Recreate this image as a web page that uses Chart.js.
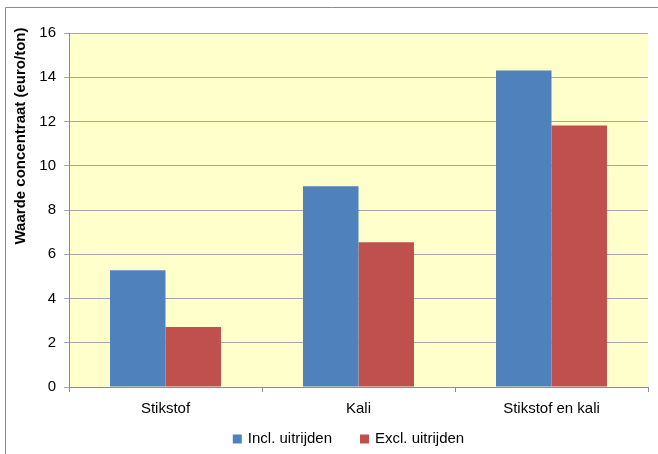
<!DOCTYPE html>
<html>
<head>
<meta charset="utf-8">
<script src="https://cdn.jsdelivr.net/npm/chart.js@4/dist/chart.umd.min.js"></script>
<style>
  html, body { margin: 0; padding: 0; background: #ffffff; }
  #wrap { width: 658px; height: 454px; position: relative; }
</style>
</head>
<body>
<div id="wrap"><canvas id="c" width="658" height="454"></canvas></div>
<script>
// Waarde concentraat per scenario
const categories = ['Stikstof', 'Kali', 'Stikstof en kali'];
const inclUitrijden = [5.28, 9.07, 14.3];
const exclUitrijden = [2.71, 6.54, 11.82];
const seriesNames = ['Incl. uitrijden', 'Excl. uitrijden'];
const yTicks = [0, 2, 4, 6, 8, 10, 12, 14, 16];
const yTitle = 'Waarde concentraat (euro/ton)';

const FONT = 'Liberation Sans, Arial, sans-serif';

// Light yellow plot background and the thin outer frame
const frame = {
  id: 'frame',
  beforeDraw(chart) {
    const { ctx, chartArea: a } = chart;
    ctx.save();
    ctx.fillStyle = '#FFFFCC';
    ctx.fillRect(a.left, a.top, a.right - a.left, a.bottom - a.top);
    ctx.strokeStyle = '#8C8C8C';
    ctx.lineWidth = 1;
    ctx.beginPath();
    ctx.moveTo(5.5, chart.height);
    ctx.lineTo(5.5, 7.5);
    ctx.lineTo(chart.width, 7.5);
    ctx.stroke();
    ctx.restore();
  }
};

// Vertical axis title, set towards the upper part of the axis
const axisTitle = {
  id: 'axisTitle',
  afterDraw(chart) {
    const { ctx } = chart;
    ctx.save();
    ctx.translate(20.5, 136);
    ctx.rotate(-Math.PI / 2);
    ctx.font = 'bold 15px ' + FONT;
    ctx.fillStyle = '#000000';
    ctx.textAlign = 'center';
    ctx.textBaseline = 'middle';
    ctx.fillText(yTitle, 0, 0);
    ctx.restore();
  }
};

// Bottom legend built from the datasets' labels and colours
const bottomLegend = {
  id: 'bottomLegend',
  afterDraw(chart) {
    const { ctx, chartArea: a } = chart;
    const box = 9, gap = 6, spacing = 28;
    ctx.save();
    ctx.font = '15px ' + FONT;
    ctx.textBaseline = 'middle';
    const items = chart.data.datasets.map(ds => ({
      text: ds.label, color: ds.backgroundColor, w: ctx.measureText(ds.label).width
    }));
    const total = items.reduce((s, it) => s + box + gap + it.w, 0) + spacing * (items.length - 1);
    let x = (a.left + a.right) / 2 - 10 - total / 2;
    const y = chart.height - 15;
    items.forEach(it => {
      ctx.fillStyle = it.color;
      ctx.fillRect(x, y - box / 2, box, box);
      ctx.fillStyle = '#000000';
      ctx.fillText(it.text, x + box + gap, y);
      x += box + gap + it.w + spacing;
    });
    ctx.restore();
  }
};

new Chart(document.getElementById('c'), {
  type: 'bar',
  data: {
    labels: categories,
    datasets: [
      { label: seriesNames[0], data: inclUitrijden, backgroundColor: '#4F81BD' },
      { label: seriesNames[1], data: exclUitrijden, backgroundColor: '#C0504D' }
    ]
  },
  options: {
    responsive: false,
    animation: false,
    devicePixelRatio: 1,
    layout: { padding: { left: 8, top: 33, right: 10, bottom: 28.5 } },
    datasets: { bar: { categoryPercentage: 0.575, barPercentage: 1.0 } },
    scales: {
      x: {
        grid: { display: true, drawOnChartArea: false, drawTicks: true, tickLength: 5, color: '#8C8C8C', offset: true },
        border: { color: '#8C8C8C' },
        ticks: { color: '#000000', font: { family: FONT, size: 15 }, padding: 7.5 },
        afterFit(scale) { scale.height = 38.5; }
      },
      y: {
        min: 0, max: 16,
        afterBuildTicks(scale) { scale.ticks = yTicks.map(v => ({ value: v })); },
        grid: { color: '#A6A6A6', tickLength: 5 },
        border: { color: '#8C8C8C' },
        ticks: { color: '#000000', font: { family: FONT, size: 15 }, padding: 8 },
        title: { display: false },
        afterFit(scale) { scale.width = 61; }
      }
    },
    plugins: {
      legend: { display: false },
      tooltip: { enabled: false }
    }
  },
  plugins: [frame, axisTitle, bottomLegend]
});
</script>
</body>
</html>
